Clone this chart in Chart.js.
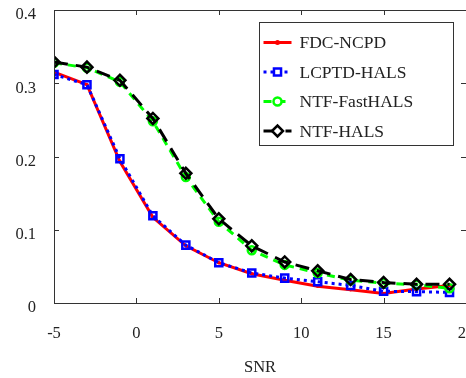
<!DOCTYPE html>
<html><head><meta charset="utf-8">
<script src="https://cdn.jsdelivr.net/npm/chart.js@4.4.0/dist/chart.umd.min.js"></script>
<style>
html,body{margin:0;padding:0;background:#fff;overflow:hidden;}
#wrap{position:relative;width:474px;height:378px;}
</style></head>
<body><div id="wrap"><canvas id="c"></canvas></div>
<script>
// ---- data ----
const snr = [-5, -3, -1, 1, 3, 5, 7, 9, 11, 13, 15, 17, 19];
const fdcNcpd    = [0.315, 0.298, 0.193, 0.117, 0.078, 0.055, 0.040, 0.031, 0.023, 0.018, 0.013, 0.019, 0.024];
const lcptdHals  = [0.312, 0.298, 0.197, 0.119, 0.079, 0.055, 0.041, 0.034, 0.029, 0.024, 0.016, 0.0155, 0.0145];
const ntfFastHals= [0.328, 0.321, 0.302, 0.248, 0.172, 0.111, 0.072, 0.052, 0.041, 0.031, 0.027, 0.025, 0.020];
const ntfHals    = [0.329, 0.322, 0.304, 0.252, 0.177, 0.115, 0.078, 0.056, 0.044, 0.032, 0.028, 0.0255, 0.0255];
const seriesNames = ['FDC-NCPD', 'LCPTD-HALS', 'NTF-FastHALS', 'NTF-HALS'];
const xTickValues = [-5, 0, 5, 10, 15, 20];
const xTickLabels = ['-5', '0', '5', '10', '15', '20'];
const yTickValues = [0, 0.1, 0.2, 0.3, 0.4];
const yTickLabels = ['0', '0.1', '0.2', '0.3', '0.4'];
const xTitle = 'SNR';

const FONT = '"Liberation Serif", "Times New Roman", serif';
const pts = arr => snr.map((x, i) => ({x: x, y: arr[i]}));

const styles = [
  {color: '#ff0000', dash: [], pointStyle: 'circle', r: 1.8, bw: 0, fill: '#ff0000', order: 4, lw: 3},
  {color: '#0000ff', dash: [3, 4], pointStyle: 'rect', r: 5, bw: 2.5, fill: 'rgba(0,0,0,0)', order: 3, lw: 3},
  {color: '#00ff00', dash: [8, 6], pointStyle: 'circle', r: 4, bw: 2.5, fill: 'rgba(0,0,0,0)', order: 2, lw: 3},
  {color: '#000000', dash: [14, 8], pointStyle: 'rectRot', r: 5.5, bw: 2.5, fill: 'rgba(0,0,0,0)', order: 1, lw: 3}
];
const seriesData = [fdcNcpd, lcptdHals, ntfFastHals, ntfHals];

const datasets = seriesNames.map((name, i) => ({
  label: name,
  data: pts(seriesData[i]),
  borderColor: styles[i].color,
  backgroundColor: styles[i].color,
  borderWidth: styles[i].lw,
  borderDash: styles[i].dash,
  pointStyle: styles[i].pointStyle,
  pointRadius: styles[i].r,
  pointBorderWidth: styles[i].bw,
  pointBorderColor: styles[i].color,
  pointBackgroundColor: styles[i].fill,
  tension: 0,
  order: styles[i].order
}));

const frameColor = '#333333';

const framePlugin = {
  id: 'frame',
  afterDatasetsDraw(chart) {
    const {ctx, chartArea: a, scales} = chart;
    ctx.save();
    ctx.strokeStyle = frameColor;
    ctx.lineWidth = 1;
    ctx.beginPath();
    ctx.rect(Math.round(a.left) + 0.5, Math.round(a.top) + 0.5, Math.round(a.right - a.left), Math.round(a.bottom - a.top));
    ctx.stroke();
    const tl = 5;
    ctx.beginPath();
    xTickValues.forEach(v => {
      const px = Math.round(scales.x.getPixelForValue(v)) + 0.5;
      ctx.moveTo(px, a.bottom); ctx.lineTo(px, a.bottom - tl);
      ctx.moveTo(px, a.top); ctx.lineTo(px, a.top + tl);
    });
    yTickValues.forEach(v => {
      const py = Math.round(scales.y.getPixelForValue(v)) + 0.5;
      ctx.moveTo(a.left, py); ctx.lineTo(a.left + tl, py);
      ctx.moveTo(a.right, py); ctx.lineTo(a.right - tl, py);
    });
    ctx.stroke();
    ctx.restore();
  },
  afterDraw(chart) {
    const {ctx, chartArea: a} = chart;
    const bx = Math.round(a.right - 207) + 0.5, by = Math.round(a.top + 12) + 0.5;
    const bw = 194, bh = 123;
    ctx.save();
    ctx.fillStyle = '#ffffff';
    ctx.fillRect(bx, by, bw, bh);
    ctx.strokeStyle = frameColor;
    ctx.lineWidth = 1;
    ctx.strokeRect(bx, by, bw, bh);
    ctx.font = '17.5px ' + FONT;
    ctx.textBaseline = 'middle';
    ctx.textAlign = 'left';
    chart.data.datasets.forEach((ds, i) => {
      const cy = by + 20 + i * 29.5;
      const x0 = bx + 4, x1 = bx + 32, xm = (x0 + x1) / 2;
      ctx.strokeStyle = ds.borderColor;
      ctx.lineWidth = ds.borderWidth;
      ctx.setLineDash(ds.borderDash);
      ctx.beginPath(); ctx.moveTo(x0, cy); ctx.lineTo(x1, cy); ctx.stroke();
      ctx.setLineDash([]);
      ctx.lineWidth = ds.pointBorderWidth;
      ctx.fillStyle = i === 0 ? ds.borderColor : '#ffffff';
      Chart.helpers.drawPoint(ctx, {pointStyle: ds.pointStyle, radius: i === 0 ? 2.5 : ds.pointRadius, rotation: 0, borderWidth: ds.pointBorderWidth}, xm, cy);
      ctx.fillStyle = '#222222';
      ctx.fillText(ds.label, bx + 40, cy + 1);
    });
    ctx.restore();
  }
};

new Chart(document.getElementById('c'), {
  type: 'line',
  data: {datasets: datasets},
  options: {
    responsive: true,
    maintainAspectRatio: false,
    animation: false,
    devicePixelRatio: 1,
    layout: {padding: {top: 10, left: 0, right: 1, bottom: 0}},
    plugins: {legend: {display: false}, tooltip: {enabled: false}},
    scales: {
      x: {
        type: 'linear', min: -5, max: 20,
        afterBuildTicks: s => { s.ticks = xTickValues.map(v => ({value: v})); },
        afterFit: s => { s.height = 75; s.paddingLeft = 0; s.paddingRight = 0; s.paddingTop = 0; s.paddingBottom = 0; },
        ticks: {
          callback: (v) => xTickLabels[xTickValues.indexOf(v)],
          font: {family: FONT, size: 16.5}, color: '#222', padding: 21, maxRotation: 0, autoSkip: false
        },
        grid: {display: false, drawTicks: false},
        border: {display: false},
        title: {display: true, text: xTitle, font: {family: FONT, size: 16.5}, color: '#222', padding: {top: 0, bottom: 0}}
      },
      y: {
        type: 'linear', min: 0, max: 0.4,
        afterBuildTicks: s => { s.ticks = yTickValues.map(v => ({value: v})); },
        afterFit: s => { s.width = 54; s.paddingLeft = 0; s.paddingRight = 0; s.paddingTop = 0; s.paddingBottom = 0; },
        ticks: {
          callback: (v) => { const k = yTickValues.findIndex(t => Math.abs(t - v) < 1e-9); return yTickLabels[k]; },
          font: {family: FONT, size: 16.5}, color: '#222', padding: 18, labelOffset: 5
        },
        grid: {display: false, drawTicks: false},
        border: {display: false}
      }
    }
  },
  plugins: [framePlugin]
});
</script>
</body></html>
